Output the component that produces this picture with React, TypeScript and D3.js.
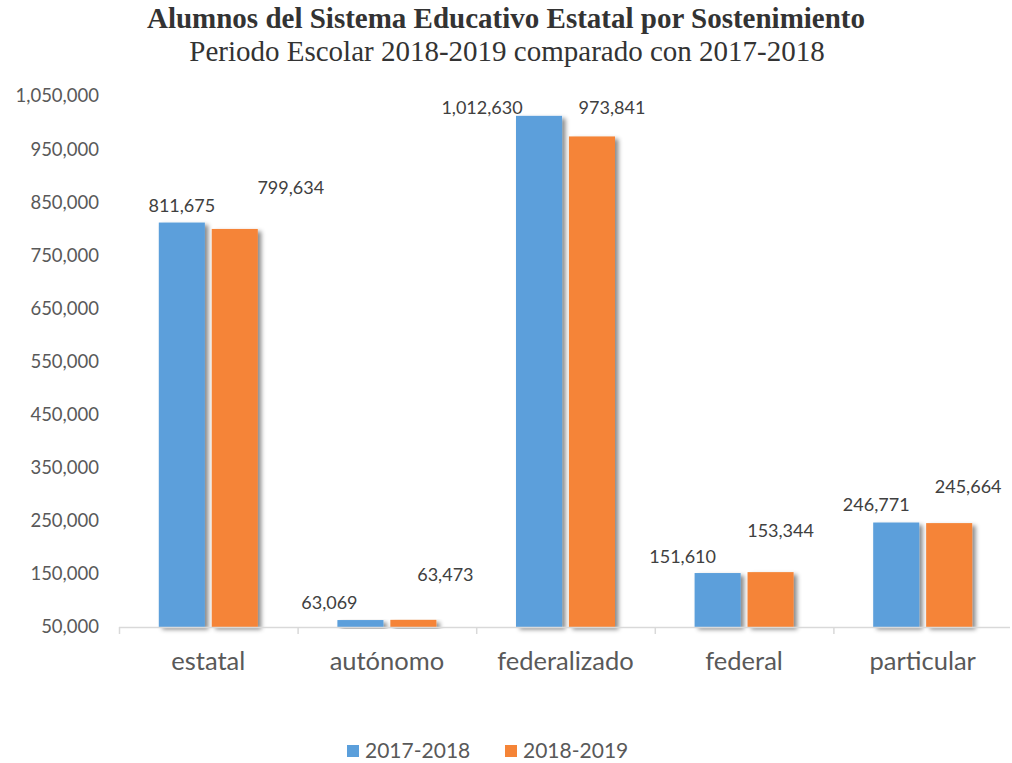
import React from "react";
import * as d3 from "d3";

const categories = ["estatal", "autónomo", "federalizado", "federal", "particular"];
const seriesNames = ["2017-2018", "2018-2019"];
const values2017 = [811675, 63069, 1012630, 151610, 246771];
const values2018 = [799634, 63473, 973841, 153344, 245664];
const yTicks = [50000, 150000, 250000, 350000, 450000, 550000, 650000, 750000, 850000, 950000, 1050000];

// manual label nudges (as in the source chart), in pixels
const labelDx2017 = [0, -31, -57, -35, -20];
const labelDx2018 = [56, 32, 20, 10, 19];
const labelDy2017 = [-17, -17, -17, -16, -18];
const labelDy2018 = [-41, -45, -36, -41, -36];

const colors = ["#5B9FDB", "#F58437"];
const W = 1012;
const H = 763;
const FONT = "Lato, 'Open Sans', sans-serif";
const SERIF = "'Liberation Serif', 'Times New Roman', serif";

export default function App() {
  const x0 = d3.scaleBand<string>().domain(categories).range([119, 1012]).padding(0);
  const inner = 39.8;
  const x1 = d3
    .scaleBand<string>()
    .domain(seriesNames)
    .range([inner, x0.bandwidth() - inner])
    .paddingInner(0.13)
    .paddingOuter(0);
  const y = d3.scaleLinear().domain([50000, 1050000]).range([627, 96]);
  const fmt = d3.format(",");
  const series = [values2017, values2018];
  const dxs = [labelDx2017, labelDx2018];
  const dys = [labelDy2017, labelDy2018];

  return (
    <svg width={W} height={H} style={{ position: "absolute", left: 0, top: 0, background: "#fff" }}>
      <defs>
        <filter id="shadow" x="-20%" y="-5%" width="150%" height="120%">
          <feDropShadow dx="3.5" dy="2.5" stdDeviation="2.2" floodColor="#000" floodOpacity="0.45" />
        </filter>
      </defs>
      <text x={506} y={28} textAnchor="middle" fontFamily={SERIF} fontWeight="bold" fontSize={29} fill="#333">
        Alumnos del Sistema Educativo Estatal por Sostenimiento
      </text>
      <text x={507} y={61} textAnchor="middle" fontFamily={SERIF} fontSize={29} fill="#333">
        Periodo Escolar 2018-2019 comparado con 2017-2018
      </text>
      {yTicks.map((t) => (
        <text key={t} x={99} y={y(t)} dy="0.35em" textAnchor="end" fontFamily={FONT} fontSize={18.5} fill="#595959">
          {fmt(t)}
        </text>
      ))}
      {series.map((vals, si) =>
        vals.map((v, ci) => {
          const bx = (x0(categories[ci]) as number) + (x1(seriesNames[si]) as number);
          const by = y(v);
          return (
            <rect
              key={`b${si}-${ci}`}
              x={bx}
              y={by}
              width={x1.bandwidth()}
              height={y(50000) - by}
              fill={colors[si]}
              filter="url(#shadow)"
            />
          );
        })
      )}
      <line x1={119} x2={1010} y1={627.5} y2={627.5} stroke="#D9D9D9" strokeWidth={1.5} />
      {categories.map((c, i) => (
        <line key={`t${i}`} x1={(x0(c) as number) + 0.5} x2={(x0(c) as number) + 0.5} y1={627} y2={634} stroke="#D9D9D9" strokeWidth={1.5} />
      ))}
      {categories.map((c) => (
        <text key={c} x={(x0(c) as number) + x0.bandwidth() / 2} y={670} textAnchor="middle" fontFamily={FONT} fontSize={25.5} fill="#595959">
          {c}
        </text>
      ))}
      {series.map((vals, si) =>
        vals.map((v, ci) => {
          const cx = (x0(categories[ci]) as number) + (x1(seriesNames[si]) as number) + x1.bandwidth() / 2 + dxs[si][ci];
          const cy = Math.max(y(v) + dys[si][ci], 108);
          return (
            <text key={`l${si}-${ci}`} x={cx} y={cy} dy="0.35em" textAnchor="middle" fontFamily={FONT} fontSize={18} fill="#404040">
              {fmt(v)}
            </text>
          );
        })
      )}
      {seriesNames.map((s, i) => {
        const lx = [347, 505][i];
        return (
          <g key={s}>
            <rect x={lx} y={745} width={12} height={12} fill={colors[i]} />
            <text x={lx + 18} y={751} dy="0.35em" fontFamily={FONT} fontSize={21} fill="#595959">
              {s}
            </text>
          </g>
        );
      })}
    </svg>
  );
}
